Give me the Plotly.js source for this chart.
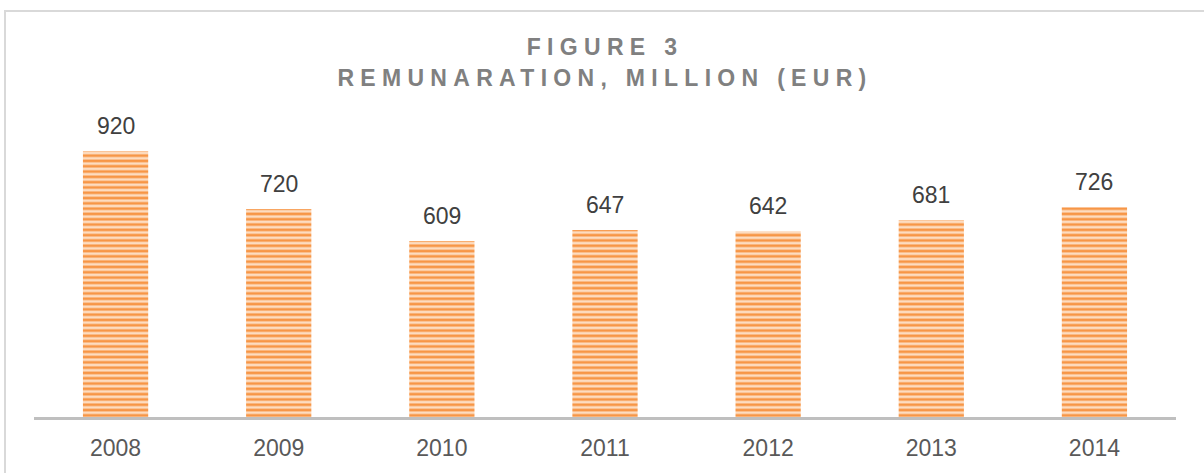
<!DOCTYPE html>
<html>
<head>
<meta charset="utf-8">
<script src="https://cdn.plot.ly/plotly-3.0.1.min.js"></script>
<style>
  html, body { margin: 0; padding: 0; background: #ffffff; }
  #wrap { position: relative; width: 1204px; height: 473px; }
  #chart { width: 1204px; height: 473px; }
  #frame { position: absolute; left: 4px; top: 10px; right: -4px; bottom: -4px;
           border-left: 2px solid #d9d9d9; border-top: 2px solid #d9d9d9; pointer-events: none; }
  .gtitle tspan.line { letter-spacing: 6.3px; }
</style>
</head>
<body>
<div id="wrap">
  <div id="chart"></div>
  <div id="frame"></div>
</div>
<script>
const years = ['2008', '2009', '2010', '2011', '2012', '2013', '2014'];
const remuneration = [920, 720, 609, 647, 642, 681, 726];
const titleLines = ['FIGURE 3', 'REMUNARATION, MILLION (EUR)'];

const trace = {
  type: 'bar',
  x: years,
  y: remuneration,
  marker: {
    color: '#f79646',
    line: { width: 0 },
    pattern: { shape: '-', fgcolor: '#f79646', bgcolor: '#fddcc0', size: 5.3, solidity: 0.5, fillmode: 'replace' }
  },
  hoverinfo: 'x+y'
};

// annotations positioned on the category axis by category index
const annotations = years.map((yr, i) => ({
  x: i, y: remuneration[i], xref: 'x', yref: 'y',
  text: String(remuneration[i]), showarrow: false,
  yanchor: 'bottom', yshift: 10,
  font: { family: 'Liberation Sans, Arial, sans-serif', size: 23, color: '#404040' }
}));

const layout = {
  width: 1204, height: 473,
  margin: { l: 34, r: 28, t: 100, b: 56 },
  paper_bgcolor: '#ffffff', plot_bgcolor: '#ffffff',
  title: {
    text: '<b>' + titleLines.join('<br>') + '</b>',
    font: { family: 'Liberation Sans, Arial, sans-serif', size: 23, color: '#808080' },
    x: 0.5, xanchor: 'center', xref: 'paper',
    y: 1 - 55 / 473, yanchor: 'top', yref: 'container'
  },
  bargap: 0.6,
  showlegend: false,
  xaxis: {
    type: 'category',
    range: [-0.5, years.length - 0.5],
    showline: true, linecolor: '#bfbfbf', linewidth: 3,
    ticks: '', showgrid: false, zeroline: false,
    tickfont: { family: 'Liberation Sans, Arial, sans-serif', size: 23, color: '#595959' },
    ticklabelstandoff: 8
  },
  yaxis: {
    range: [0, 1097], visible: false, showgrid: false, zeroline: false
  },
  annotations: annotations
};

Plotly.newPlot('chart', [trace], layout, { displayModeBar: false, staticPlot: true }).then(gd => {
  const lines = gd.querySelectorAll('.gtitle tspan.line');
  if (lines.length > 1) lines[1].setAttribute('dy', '1.35em');
});
</script>
</body>
</html>
